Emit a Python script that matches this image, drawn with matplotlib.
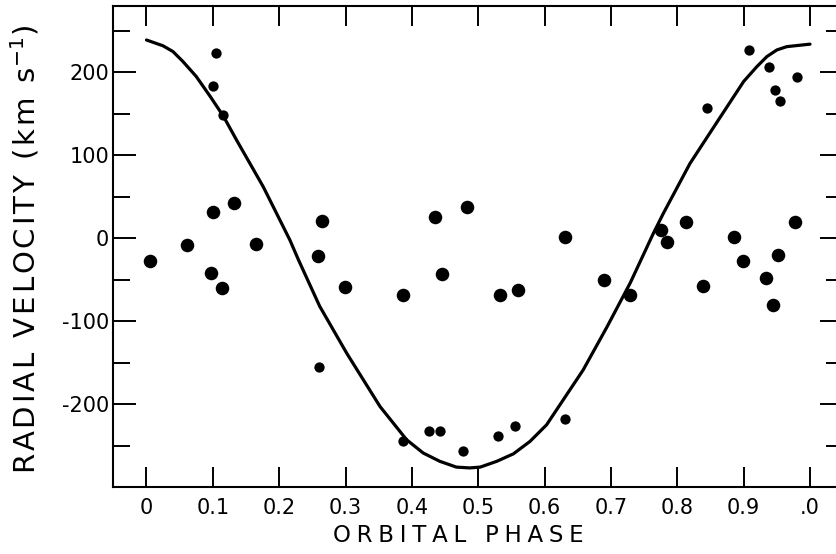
import matplotlib
matplotlib.use("Agg")
import matplotlib.pyplot as plt
import numpy as np

plt.rcParams['font.family'] = ['DejaVu Sans']
plt.rcParams['axes.unicode_minus'] = False

# fitted orbit curve
curve_phase = [0.000, 0.025, 0.040, 0.055, 0.075, 0.096, 0.116, 0.136, 0.156,
               0.176, 0.196, 0.216, 0.229, 0.261, 0.302, 0.352, 0.372, 0.392,
               0.417, 0.442, 0.467, 0.487, 0.503, 0.528, 0.553, 0.578, 0.603,
               0.623, 0.658, 0.694, 0.729, 0.764, 0.779, 0.819, 0.859,
               0.900, 0.920, 0.935, 0.950, 0.965, 1.000]
curve_vel = [239, 232, 225, 213, 195, 171, 147, 118, 90,
             62, 30, -2, -26, -82, -139, -203, -223, -243,
             -259, -269, -276, -277, -276, -269, -260, -245, -225,
             -201, -159, -107, -54, 6, 30, 90, 139,
             189, 207, 219, 227, 231, 234]

# small dots
small_phase = [0.1045, 0.0995, 0.1155, 0.2593, 0.3869, 0.426, 0.4422, 0.4773,
               0.530, 0.556, 0.6307, 0.8443, 0.9076, 0.9387, 0.980, 0.9472, 0.9548]
small_vel = [223, 183, 148, -155, -245, -233, -233, -256,
             -239, -226, -218, 157, 227, 207, 194, 179, 165]

# large dots
big_phase = [0.006, 0.0612, 0.097, 0.114, 0.1005, 0.132, 0.1658, 0.2578, 0.2648,
             0.299, 0.386, 0.4347, 0.4447, 0.4824, 0.5327, 0.5602, 0.6307, 0.689,
             0.729, 0.7754, 0.7844, 0.8135, 0.839, 0.885, 0.8995, 0.934, 0.9438,
             0.952, 0.9774]
big_vel = [-27, -8, -42, -60, 32, 43, -7, -21, 21,
           -59, -68, 26, -43, 38, -68, -63, 2, -50,
           -68, 10, -4, 20, -58, 1, -28, -48, -80,
           -20, 20]

xticks = [0, 0.1, 0.2, 0.3, 0.4, 0.5, 0.6, 0.7, 0.8, 0.9, 1.0]
xtick_labels = ['0', '0.1', '0.2', '0.3', '0.4', '0.5', '0.6', '0.7', '0.8', '0.9', '.0']
yticks = [-200, -100, 0, 100, 200]
ytick_minor = [-250, -150, -50, 50, 150, 250]


def spaced(s, sp='\u200a'):
    return sp.join(s)


fig = plt.figure(figsize=(8.36, 5.54), dpi=100)
ax = fig.add_axes([113.3 / 836, 1 - 487 / 554, (843.2 - 113.3) / 836, (487 - 6) / 554])

ax.plot(curve_phase, curve_vel, color='black', lw=2.3, solid_joinstyle='round',
        solid_capstyle='round')
ax.scatter(small_phase, small_vel, s=55, color='black', linewidths=0, zorder=3)
ax.scatter(big_phase, big_vel, s=95, color='black', linewidths=0, zorder=3)

ax.set_xlim(-0.05, 1.05)
ax.set_ylim(-300, 280)

ax.set_xticks(xticks)
ax.set_xticklabels(xtick_labels)
ax.set_yticks(yticks)
ax.set_yticks(ytick_minor, minor=True)

ax.tick_params(axis='x', which='major', direction='in', length=14.4, width=1.4,
               top=True, bottom=True, pad=8, labelsize=15)
ax.tick_params(axis='y', which='major', direction='in', length=16.5, width=1.4,
               left=True, right=True, pad=3, labelsize=15)
ax.tick_params(axis='y', which='minor', direction='in', length=12, width=1.4,
               left=True, right=True)

for sp in ax.spines.values():
    sp.set_linewidth(1.5)

fig.text(458.5 / 836, 1 - 535.5 / 554, spaced('ORBITAL PHASE', '\u2005'),
         ha='center', va='center', fontsize=16.5)
fig.text(25 / 836, 1 - 250 / 554,
         spaced('RADIAL VELOCITY (km s', '\u200a') + '$^{-1}$)',
         ha='center', va='center', rotation=90, fontsize=21)

fig.savefig('out.png', dpi=100)
